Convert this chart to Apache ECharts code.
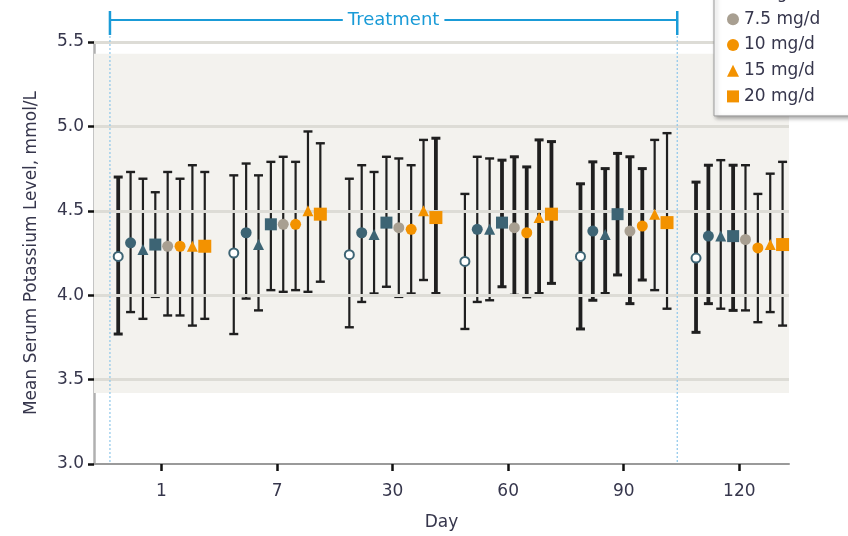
<!DOCTYPE html>
<html><head><meta charset="utf-8">
<script src="https://cdn.jsdelivr.net/npm/echarts@6/dist/echarts.min.js"></script>
<style>html,body{margin:0;padding:0;background:#fff}#c{width:848px;height:536px}</style>
</head><body><div id="c"></div>
<script>
// ---- data ----
const days = ['1', '7', '30', '60', '90', '120'];
const seriesNames = ['Placebo', '1.25 mg/d', '2.5 mg/d', '5 mg/d', '7.5 mg/d', '10 mg/d', '15 mg/d', '20 mg/d'];
const yTicks = [3.0, 3.5, 4.0, 4.5, 5.0, 5.5];

const meanPlacebo = [4.23, 4.25, 4.24, 4.20, 4.23, 4.22];
const hiPlacebo   = [4.70, 4.71, 4.69, 4.60, 4.66, 4.67];
const loPlacebo   = [3.77, 3.77, 3.81, 3.80, 3.80, 3.78];

const mean125 = [4.31, 4.37, 4.37, 4.39, 4.38, 4.35];
const hi125   = [4.73, 4.78, 4.77, 4.82, 4.79, 4.77];
const lo125   = [3.90, 3.98, 3.96, 3.96, 3.97, 3.95];

const mean25 = [4.27, 4.30, 4.36, 4.39, 4.36, 4.35];
const hi25   = [4.69, 4.71, 4.73, 4.81, 4.75, 4.80];
const lo25   = [3.86, 3.91, 4.01, 3.97, 4.01, 3.92];

const mean5 = [4.30, 4.42, 4.43, 4.43, 4.48, 4.35];
const hi5   = [4.61, 4.79, 4.82, 4.80, 4.84, 4.77];
const lo5   = [3.99, 4.03, 4.05, 4.05, 4.12, 3.91];

const mean75 = [4.29, 4.42, 4.40, 4.40, 4.38, 4.33];
const hi75   = [4.73, 4.82, 4.81, 4.82, 4.82, 4.77];
const lo75   = [3.88, 4.02, 3.99, 4.00, 3.95, 3.91];

const mean10 = [4.29, 4.42, 4.39, 4.37, 4.41, 4.28];
const hi10   = [4.69, 4.79, 4.77, 4.76, 4.75, 4.60];
const lo10   = [3.88, 4.03, 4.01, 3.99, 4.09, 3.84];

const mean15 = [4.29, 4.50, 4.50, 4.46, 4.48, 4.30];
const hi15   = [4.77, 4.97, 4.92, 4.92, 4.92, 4.72];
const lo15   = [3.82, 4.02, 4.09, 4.01, 4.03, 3.90];

const mean20 = [4.29, 4.48, 4.46, 4.48, 4.43, 4.30];
const hi20   = [4.73, 4.90, 4.93, 4.91, 4.96, 4.79];
const lo20   = [3.86, 4.08, 4.01, 4.07, 3.92, 3.82];

const refBand = [3.42, 5.43];          // shaded reference range
const treatmentSpan = [0.554, 5.463];  // in day-slot axis units

// ---- styles ----
const teal = '#3d6474', gray = '#a89f91', orange = '#f39200';
const markerStyles = [
  { symbol: 'circle', size: 9, color: '#ffffff', border: teal, bw: 2 },
  { symbol: 'circle', size: 11, color: teal },
  { symbol: 'triangle', size: 11, color: teal },
  { symbol: 'rect', size: 12, color: teal },
  { symbol: 'circle', size: 11, color: gray },
  { symbol: 'circle', size: 11, color: orange },
  { symbol: 'triangle', size: 11, color: orange },
  { symbol: 'rect', size: 13, color: orange }
];
const boldBars = [[0, 4, 5], [4, 5], [4], [3, 4, 5], [3, 4], [3, 4], [3], [2, 3]];
const FONT = 'DejaVu Sans';
const TXT = '#36364c';

const means = [meanPlacebo, mean125, mean25, mean5, mean75, mean10, mean15, mean20];
const his = [hiPlacebo, hi125, hi25, hi5, hi75, hi10, hi15, hi20];
const los = [loPlacebo, lo125, lo25, lo5, lo75, lo10, lo15, lo20];
const slot = 0.107;
const xOf = (d, s) => d + 1 + (s - 3.5) * slot;

const series = [];
// background band + grid lines drawn above it
series.push({
  type: 'line', data: [], z: 1, silent: true,
  markArea: { silent: true, itemStyle: { color: '#f3f2ee' },
    data: [[{ yAxis: refBand[0] }, { yAxis: refBand[1] }]] },
  markLine: { silent: true, symbol: ['none', 'none'], label: { show: false },
    lineStyle: { color: '#dddcd6', width: 3, type: 'solid' },
    data: yTicks.slice(1).map(v => ({ yAxis: v })) }
});
seriesNames.forEach((name, s) => {
  series.push({
    type: 'custom', name: name + ' CI', z: 3, silent: true,
    data: days.map((d, i) => [xOf(i, s), los[s][i], his[s][i], boldBars[s].includes(i) ? 1 : 0]),
    renderItem: (params, api) => {
      const x = api.value(0);
      const p1 = api.coord([x, api.value(1)]);
      const p2 = api.coord([x, api.value(2)]);
      const bold = api.value(3);
      const w = bold ? 3.8 : 2.2;
      const cap = 4.5;
      const cst = { stroke: '#1f1f1f', lineWidth: bold ? 3 : 2.4 };
      return { type: 'group', children: [
        { type: 'line', shape: { x1: p1[0], y1: p1[1], x2: p2[0], y2: p2[1] }, style: { stroke: '#1f1f1f', lineWidth: w } },
        { type: 'line', shape: { x1: p1[0] - cap, y1: p1[1], x2: p1[0] + cap, y2: p1[1] }, style: cst },
        { type: 'line', shape: { x1: p2[0] - cap, y1: p2[1], x2: p2[0] + cap, y2: p2[1] }, style: cst }
      ] };
    }
  });
});
seriesNames.forEach((name, s) => {
  const m = markerStyles[s];
  series.push({
    type: 'scatter', name: name, z: 5,
    symbol: m.symbol, symbolSize: m.size,
    itemStyle: { color: m.color, borderColor: m.border || m.color, borderWidth: m.bw || 0, opacity: 1 },
    data: days.map((d, i) => [xOf(i, s), means[s][i]])
  });
});

const chart = echarts.init(document.getElementById('c'), null, { renderer: 'canvas' });
chart.setOption({
  animation: false,
  backgroundColor: '#ffffff',
  grid: { left: 94, right: 59, top: 42, bottom: 71 },
  legend: {
    orient: 'vertical', left: 714, top: -103, z: 50, zlevel: 1,
    padding: [11, 30, 11, 12],
    itemWidth: 12, itemHeight: 12, itemGap: 8.7,
    backgroundColor: '#ffffff', borderColor: '#9a9a9a', borderWidth: 1,
    shadowColor: 'rgba(0,0,0,0.35)', shadowBlur: 4, shadowOffsetX: 2, shadowOffsetY: 2,
    textStyle: { fontFamily: FONT, fontSize: 17, color: TXT },
    data: seriesNames.map((n, s) => ({ name: n, icon: markerStyles[s].symbol }))
  },
  xAxis: {
    type: 'value', min: 0.416, max: 6.43,
    name: 'Day', nameLocation: 'middle', nameGap: 50,
    nameTextStyle: { fontFamily: FONT, fontSize: 17, color: TXT },
    axisLine: { lineStyle: { color: '#9a9a9a', width: 2 } },
    axisTick: { show: true, length: 7, lineStyle: { color: '#111', width: 2.5 }, customValues: [1, 2, 3, 4, 5, 6] },
    axisLabel: { customValues: [1, 2, 3, 4, 5, 6], formatter: v => days[Math.round(v) - 1] || '',
      margin: 19, fontFamily: FONT, fontSize: 17, color: TXT },
    splitLine: { show: false }
  },
  yAxis: {
    type: 'value', min: yTicks[0], max: yTicks[yTicks.length - 1], interval: 0.5,
    name: 'Mean Serum Potassium Level, mmol/L', nameLocation: 'middle', nameGap: 54,
    nameTextStyle: { fontFamily: FONT, fontSize: 17, color: TXT },
    axisLine: { show: true, lineStyle: { color: '#b0b0b0', width: 2.5 } },
    axisTick: { show: true, length: 6, lineStyle: { color: '#111', width: 2.5 } },
    axisLabel: { formatter: v => v.toFixed(1), margin: 10, fontFamily: FONT, fontSize: 17, color: TXT },
    splitLine: { show: false }
  },
  series: series
});

// Treatment bracket and dotted boundaries
const xa = chart.convertToPixel({ xAxisIndex: 0 }, treatmentSpan[0]);
const xb = chart.convertToPixel({ xAxisIndex: 0 }, treatmentSpan[1]);
const yBottom = chart.convertToPixel({ yAxisIndex: 0 }, yTicks[0]);
const blue = '#1a9bd7';
const yB = 20;
chart.setOption({
  graphic: [
    { type: 'line', z: 10, shape: { x1: xa, y1: 36, x2: xa, y2: yBottom }, style: { stroke: '#8cc6ea', lineWidth: 1.2, lineDash: [2, 2] } },
    { type: 'line', z: 10, shape: { x1: xb, y1: 36, x2: xb, y2: yBottom }, style: { stroke: '#8cc6ea', lineWidth: 1.2, lineDash: [2, 2] } },
    { type: 'line', z: 10, shape: { x1: xa, y1: yB, x2: xb, y2: yB }, style: { stroke: blue, lineWidth: 2 } },
    { type: 'line', z: 10, shape: { x1: xa, y1: 11, x2: xa, y2: 35 }, style: { stroke: blue, lineWidth: 2.5 } },
    { type: 'line', z: 10, shape: { x1: xb, y1: 11, x2: xb, y2: 35 }, style: { stroke: blue, lineWidth: 2.5 } },
    { type: 'text', z: 11, x: (xa + xb) / 2, y: yB,
      style: { text: 'Treatment', fontFamily: FONT, fontSize: 18, fill: blue, align: 'center', verticalAlign: 'middle',
        backgroundColor: '#ffffff', padding: [0, 5] } }
  ]
});
</script>
</body></html>
